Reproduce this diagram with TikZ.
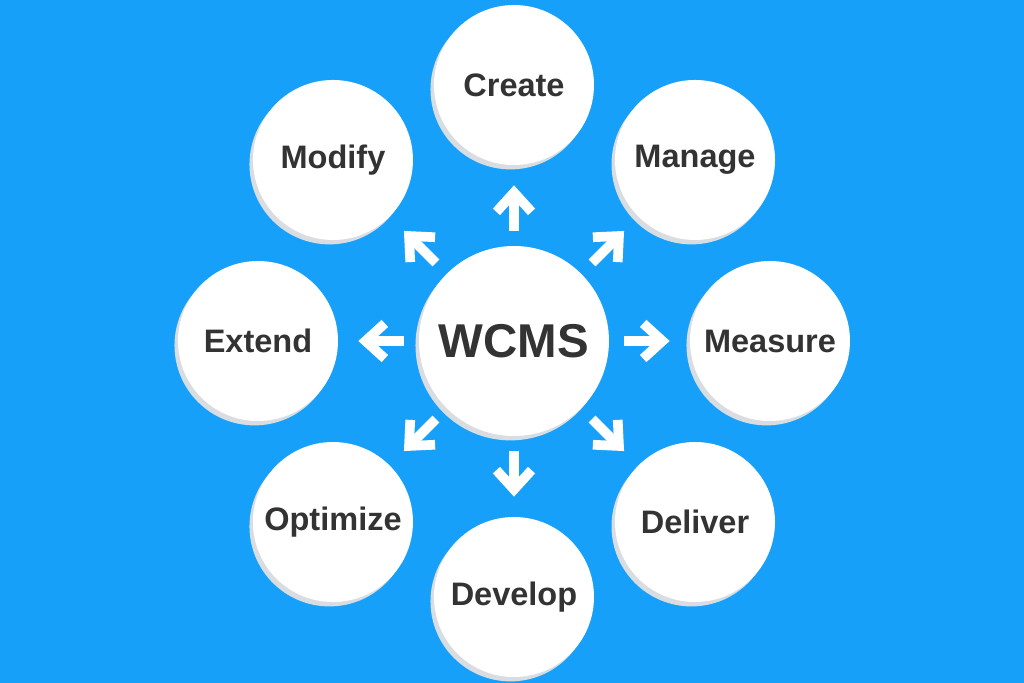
\documentclass[tikz,border=0pt]{standalone}
\usepackage{fontspec}
\setmainfont{Liberation Sans}
\usetikzlibrary{arrows.meta,shadows,positioning}
\definecolor{skyblue}{HTML}{16A0FA}
\definecolor{labelgrey}{HTML}{333333}
\definecolor{rimgrey}{HTML}{D9DDE2}

\begin{document}
\begin{tikzpicture}
    \tikzstyle{bubble}=[circle,fill=white,inner sep=0pt,text=labelgrey,
        general shadow={fill=rimgrey,shadow xshift=-2pt,shadow yshift=-2.5pt}]
    \tikzstyle{task}=[bubble,minimum size=3.2cm,font=\bfseries\fontsize{18.5}{22}\selectfont]
    \tikzstyle{hub}=[bubble,minimum size=3.8cm,font=\bfseries\fontsize{27}{31}\selectfont]
    \tikzstyle{spoke}=[draw=white,line width=5.5pt,shorten <=0.3cm,shorten >=0.4cm,
        -{Straight Barb[length=11pt,width=20pt]}]

    % Background
    \fill[skyblue] (-10.28,-6.84) rectangle (10.2,6.82);
    \useasboundingbox (-10.28,-6.84) rectangle (10.2,6.82);

    % Draw the central node
    \node[hub] (W) at (0,0) {WCMS};

    % Draw the surrounding nodes
    \foreach \name / \ang in {Create/90, Manage/45, Measure/0, Deliver/-45,
                              Develop/-90, Optimize/-135, Extend/180, Modify/135}
        \node[task] (T-\name) at (\ang:5.12cm) {\name};

    % Arrows pointing out from the centre
    \foreach \name in {Create,Manage,Measure,Deliver,Develop,Optimize,Extend,Modify}
        \path[spoke] (W) -- (T-\name);
\end{tikzpicture}
\end{document}
